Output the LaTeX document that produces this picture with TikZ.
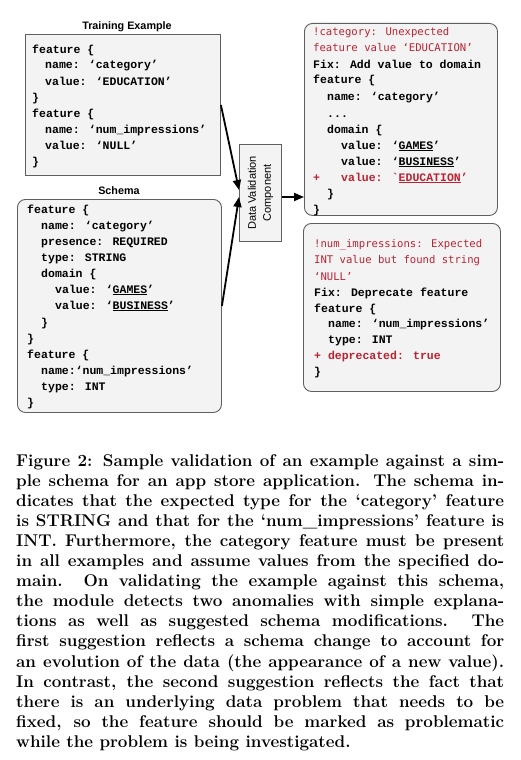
\documentclass[tikz,border=0pt]{standalone}
\usepackage{fontspec}
\usetikzlibrary{arrows.meta,calc}
\newfontfamily\cmono{Liberation Mono}
\newfontfamily\rmono{DejaVu Sans Mono}
\newfontfamily\asans{Liberation Sans}
\definecolor{boxfill}{RGB}{243,243,243}
\definecolor{boxborder}{RGB}{95,95,95}
\definecolor{errred}{RGB}{185,35,50}
\tikzset{
  box/.style={draw=boxborder, fill=boxfill, line width=0.9pt, inner sep=0pt, anchor=north west},
  rbox/.style={box, rounded corners=8pt},
  code/.style={anchor=base west, inner sep=0pt, font={\cmono\bfseries\fontsize{11.5}{14}\selectfont}},
  rcode/.style={code, text=errred},
  emsg/.style={anchor=base west, inner sep=0pt, font={\rmono\fontsize{10.6}{13}\selectfont}, text=errred},
  titlelbl/.style={anchor=base, inner sep=0pt, font={\asans\bfseries\fontsize{10.8}{12}\selectfont}},
  complbl/.style={inner sep=0pt, align=center, font={\asans\fontsize{11}{15}\selectfont}},
  arr/.style={line width=1.8pt, -{Triangle[length=10pt,width=8pt]}},
  capline/.style={anchor=base west, inner sep=0pt, font={\bfseries\fontsize{17}{20}\selectfont}},
}
\newcommand\cl[1]{\makebox[488pt][s]{#1}}
\begin{document}
\begin{tikzpicture}[x=1pt,y=-1pt]
\fill[white] (0,0) rectangle (520,760);
\useasboundingbox (0,0) rectangle (520,760);

% titles
\node[titlelbl] (ttrain) at (127,30) {Training Example};
\node[titlelbl] (tschema) at (119,194) {Schema};

% boxes
\node[box, minimum width=195pt, minimum height=141pt] (train) at (25,34) {};
\node[rbox, minimum width=204pt, minimum height=213pt] (schema) at (17,199) {};
\node[box, minimum width=42pt, minimum height=97pt] (comp) at (239,144) {};
\node[rbox, minimum width=193pt, minimum height=192pt] (err1) at (304,23) {};
\node[rbox, minimum width=197pt, minimum height=168pt] (err2) at (303,223) {};

\node[complbl, rotate=90] (complabel) at (comp.center) {Data Validation\\Component};

% training example
\node[code] (a1) at (32,53) {feature \{};
\node[code] (a2) at (45,69) {name: ‘category’};
\node[code] (a3) at (45,85) {value: ‘EDUCATION’};
\node[code] (a4) at (32,101) {\}};
\node[code] (a5) at (32,117) {feature \{};
\node[code] (a6) at (45,133) {name: ‘num\_impressions’};
\node[code] (a7) at (45,149) {value: ‘NULL’};
\node[code] (a8) at (32,165) {\}};

% schema
\node[code] (b1) at (27,213) {feature \{};
\node[code] (b2) at (41,229) {name: ‘category’};
\node[code] (b3) at (41,245) {presence: REQUIRED};
\node[code] (b4) at (41,261) {type: STRING};
\node[code] (b5) at (41,277) {domain \{};
\node[code] (b6) at (55,293) {value: ‘\underline{GAMES}’};
\node[code] (b7) at (55,309) {value: ‘\underline{BUSINESS}’};
\node[code] (b8) at (41,326) {\}};
\node[code] (b9) at (27,342) {\}};
\node[code] (b10) at (27,358) {feature \{};
\node[code] (b11) at (41,374) {name:‘num\_impressions’};
\node[code] (b12) at (41,390) {type: INT};
\node[code] (b13) at (27,406) {\}};

% error 1
\node[emsg] (c1) at (313,36) {!category: Unexpected};
\node[emsg] (c2) at (313,52) {feature value ‘EDUCATION’};
\node[code] (c3) at (313,68) {Fix: Add value to domain};
\node[code] (c4) at (313,84) {feature \{};
\node[code] (c5) at (327,100) {name: ‘category’};
\node[code] (c6) at (327,117) {...};
\node[code] (c7) at (327,133) {domain \{};
\node[code] (c8) at (341,149) {value: ‘\underline{GAMES}’};
\node[code] (c9) at (341,165) {value: ‘\underline{BUSINESS}’};
\node[rcode] (c10p) at (313,181) {+};
\node[rcode] (c10) at (341,181) {value: `\underline{EDUCATION}’};
\node[code] (c11) at (327,197) {\}};
\node[code] (c12) at (313,213) {\}};

% error 2
\node[emsg] (d1) at (314,247) {!num\_impressions: Expected};
\node[emsg] (d2) at (314,263) {INT value but found string};
\node[emsg] (d3) at (314,280) {‘NULL’};
\node[code] (d4) at (314,296) {Fix: Deprecate feature};
\node[code] (d5) at (314,312) {feature \{};
\node[code] (d6) at (328,327) {name: ‘num\_impressions’};
\node[code] (d7) at (328,343) {type: INT};
\node[rcode] (d8) at (314,359) {+ deprecated: true};
\node[code] (d9) at (314,375) {\}};

% arrows
\coordinate (tip1) at (239,190);
\coordinate (tip2) at (239,197);
\draw[arr] (train.east) -- (tip1);
\draw[arr] (schema.east) -- (tip2);
\draw[arr] (comp.east |- tip2) -- (err1.west |- tip2);

% caption
\node[capline] (k1) at (16,466) {\cl{Figure 2: Sample validation of an example against a sim-}};
\node[capline] (k2) at (16,486.1) {\cl{ple schema for an app store application. The schema in-}};
\node[capline] (k3) at (16,506.2) {\cl{dicates that the expected type for the ‘category’ feature}};
\node[capline] (k4) at (16,526.3) {\cl{is STRING and that for the ‘num\_impressions’ feature is}};
\node[capline] (k5) at (16,546.4) {\cl{INT. Furthermore, the category feature must be present}};
\node[capline] (k6) at (16,566.5) {\cl{in all examples and assume values from the specified do-}};
\node[capline] (k7) at (16,586.6) {\cl{main. On validating the example against this schema,}};
\node[capline] (k8) at (16,606.7) {\cl{the module detects two anomalies with simple explana-}};
\node[capline] (k9) at (16,626.8) {\cl{tions as well as suggested schema modifications. The}};
\node[capline] (k10) at (16,646.9) {\cl{first suggestion reflects a schema change to account for}};
\node[capline] (k11) at (16,667.0) {\cl{an evolution of the data (the appearance of a new value).}};
\node[capline] (k12) at (16,687.1) {\cl{In contrast, the second suggestion reflects the fact that}};
\node[capline] (k13) at (16,707.2) {\cl{there is an underlying data problem that needs to be}};
\node[capline] (k14) at (16,727.3) {\cl{fixed, so the feature should be marked as problematic}};
\node[capline] (k15) at (16,747.4) {while the problem is being investigated.};
\end{tikzpicture}
\end{document}
